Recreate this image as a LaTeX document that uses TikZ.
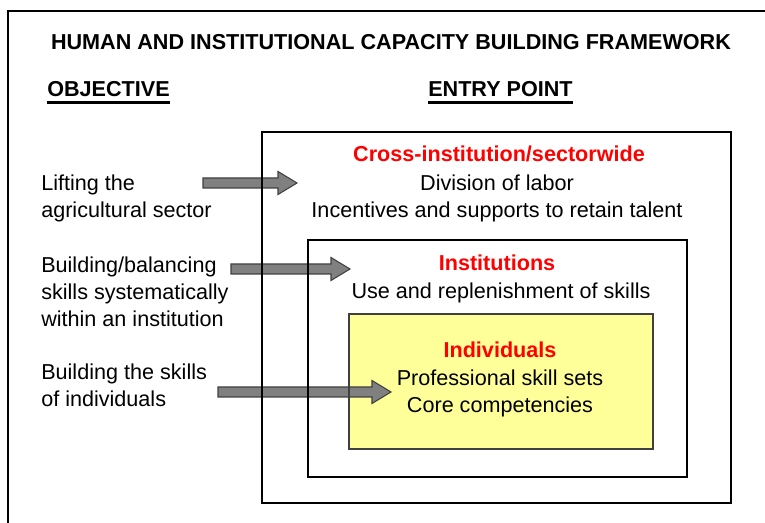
\documentclass[tikz,border=0pt]{standalone}
\usepackage{fontspec}
\setmainfont{Liberation Sans}
\usetikzlibrary{calc}

\definecolor{paleyellow}{HTML}{FFFF99}
\definecolor{arrowgray}{HTML}{808080}
\definecolor{edgegray}{HTML}{404040}

% fat gray arrow from #1 (tail) to #2 (tip)
\newcommand{\blockarrow}[2]{%
  \filldraw[fat arrow] ($(#1)+(0,-5)$) -- ($(#2)+(-19,-5)$) -- ($(#2)+(-19,-11.5)$) -- (#2)
    -- ($(#2)+(-19,11.5)$) -- ($(#2)+(-19,5)$) -- ($(#1)+(0,5)$) -- cycle;}

\begin{document}
\begin{tikzpicture}[x=0.75pt,y=-0.75pt,
  txt/.style={font=\fontsize{16.2pt}{20.25pt}\selectfont,inner sep=0pt},
  bold txt/.style={font=\fontsize{16.2pt}{20.25pt}\selectfont\bfseries,inner sep=0pt},
  fat arrow/.style={draw=edgegray,fill=arrowgray,line width=0.8pt,line join=miter},
  box line/.style={draw=black,line width=1pt},
  inner box/.style={draw=edgegray,line width=1.6pt}]
\tikzstyle{head line} = [draw,line width=2pt]

\useasboundingbox (0,0) rectangle (765,523);
\draw[line width=1.1pt] (775,11) -- (8,11) -- (8,533);

% headings
\node[bold txt,anchor=base] (title) at (391,50) {HUMAN AND INSTITUTIONAL CAPACITY BUILDING FRAMEWORK};
\node[bold txt,anchor=base west] (objective) at (47,97) {OBJECTIVE};
\node[bold txt,anchor=base west] (entry) at (428,97) {ENTRY POINT};
\draw[head line] ([yshift=-4pt]objective.base west) -- ([yshift=-4pt]objective.base east);
\draw[head line] ([yshift=-4pt]entry.base west) -- ([yshift=-4pt]entry.base east);

% objectives (base = last line)
\node[txt,anchor=base west,align=left] (lift) at (41,218) {Lifting the\\agricultural sector};
\node[txt,anchor=base west,align=left] (balance) at (41,327) {Building/balancing\\skills systematically\\within an institution};
\node[txt,anchor=base west,align=left] (skills) at (41,407) {Building the skills\\of individuals};

% entry points
\fill[paleyellow] (349,314) rectangle (653,449);

\node[bold txt,red,anchor=base] (cross) at (499,162) {Cross-institution/sectorwide};
\node[txt,anchor=base,align=center] (crosstext) at (497,218) {Division of labor\\Incentives and supports to retain talent};
\node[bold txt,red,anchor=base] (inst) at (497,271) {Institutions};
\node[txt,anchor=base] (insttext) at (501,299) {Use and replenishment of skills};
\node[bold txt,red,anchor=base] (indiv) at (500,358) {Individuals};
\node[txt,anchor=base,align=center] (indivtext) at (500,413) {Professional skill sets\\Core competencies};

\coordinate (lift end) at (203,183);
\coordinate (cross in) at (297,183);
\coordinate (balance end) at (231,269);
\coordinate (inst in) at (350,269);
\coordinate (skills end) at (218,392);
\coordinate (indiv in) at (391,392);

\blockarrow{lift end}{cross in}
\blockarrow{balance end}{inst in}
\blockarrow{skills end}{indiv in}

\draw[box line] (262,132) rectangle (731,503);
\draw[box line] (308,240) rectangle (687,477);
\draw[inner box] (349,314) rectangle (653,449);

\end{tikzpicture}
\end{document}
